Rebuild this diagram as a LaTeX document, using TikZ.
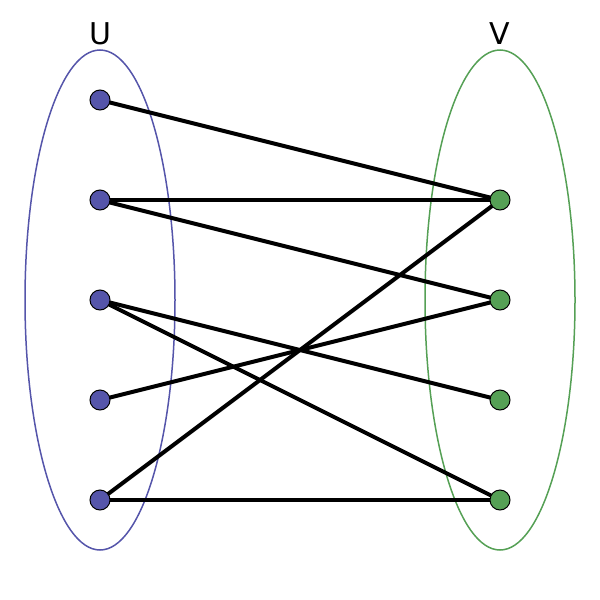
\documentclass[tikz,border=0pt]{standalone}
\usepackage{fontspec}
\setmainfont{DejaVu Sans}
\definecolor{ublue}{HTML}{5555AA}
\definecolor{vgreen}{HTML}{55A055}
\tikzset{
  uvert/.style={circle,draw=black,line width=1pt,fill=ublue,minimum size=20pt,inner sep=0pt},
  vvert/.style={circle,draw=black,line width=1pt,fill=vgreen,minimum size=20pt,inner sep=0pt},
  edge/.style={line width=4pt,black},
  setlabel/.style={font=\fontsize{30}{30}\selectfont,inner sep=0pt},
}
\begin{document}
\begin{tikzpicture}[x=1pt,y=-1pt]
\useasboundingbox (0,0) rectangle (600,600);
\draw[ublue,line width=1.5pt] (100,300) ellipse [x radius=75pt,y radius=250pt];
\draw[vgreen,line width=1.5pt] (500,300) ellipse [x radius=75pt,y radius=250pt];
\node[setlabel] (lu) at (100,34) {U};
\node[setlabel] (lv) at (500,34) {V};
\coordinate (u1) at (100,100);
\coordinate (u2) at (100,200);
\coordinate (u3) at (100,300);
\coordinate (u4) at (100,400);
\coordinate (u5) at (100,500);
\coordinate (v1) at (500,200);
\coordinate (v2) at (500,300);
\coordinate (v3) at (500,400);
\coordinate (v4) at (500,500);
\draw[edge] (u1) -- (v1);
\draw[edge] (u2) -- (v1);
\draw[edge] (u2) -- (v2);
\draw[edge] (u3) -- (v3);
\draw[edge] (u3) -- (v4);
\draw[edge] (u4) -- (v2);
\draw[edge] (u5) -- (v1);
\draw[edge] (u5) -- (v4);
\foreach \n in {u1,u2,u3,u4,u5} \node[uvert] (n\n) at (\n) {};
\foreach \n in {v1,v2,v3,v4} \node[vvert] (n\n) at (\n) {};
\end{tikzpicture}
\end{document}
